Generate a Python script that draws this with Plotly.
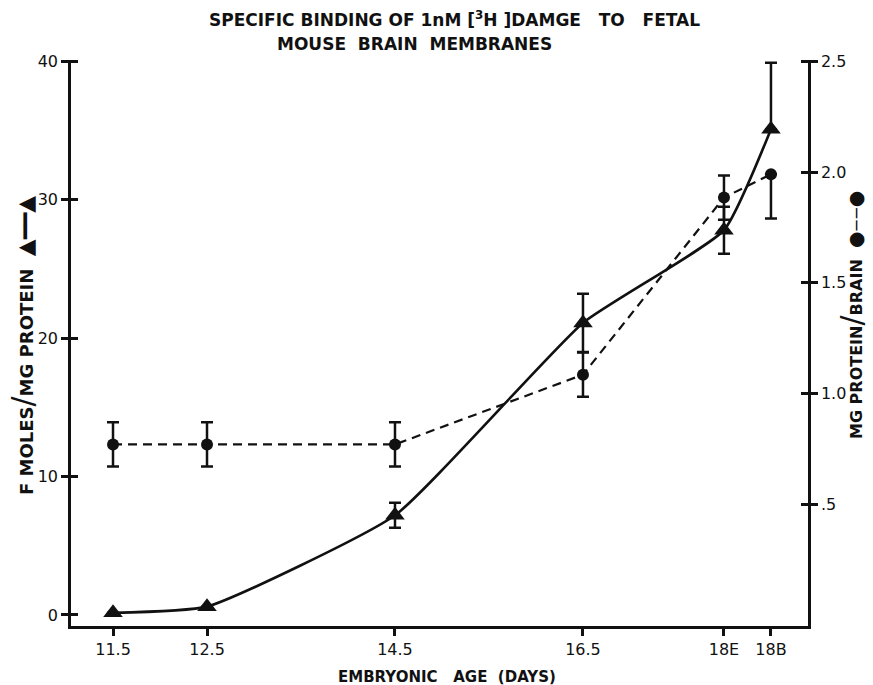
import plotly.graph_objects as go

# Data
ages = [11.5, 12.5, 14.5, 16.5, 18.0, 18.5]
age_labels = ["11.5", "12.5", "14.5", "16.5", "18E", "18B"]

binding = [0.15, 0.6, 7.2, 21.1, 27.8, 35.1]          # fmoles/mg protein (triangles, left axis)
binding_err_plus = [0, 0, 0.9, 2.1, 1.7, 4.8]
binding_err_minus = [0, 0, 0.9, 2.1, 1.7, 0]

protein = [0.77, 0.77, 0.77, 1.085, 1.885, 1.99]     # mg protein/brain (circles, right axis)
protein_err_plus = [0.10, 0.10, 0.10, 0.10, 0.10, 0]
protein_err_minus = [0.10, 0.10, 0.10, 0.10, 0.10, 0.20]

left_ticks = [0, 10, 20, 30, 40]
right_ticks = [0.5, 1.0, 1.5, 2.0, 2.5]
right_tick_text = [".5", "1.0", "1.5", "2.0", "2.5"]

LEFT_RANGE = [-0.8, 40.1]
RIGHT_RANGE = [LEFT_RANGE[0] / 16, LEFT_RANGE[1] / 16]
X_RANGE = [11.053, 18.894]

FONT = "DejaVu Sans"
INK = "#111111"

fig = go.Figure()

fig.add_trace(go.Scatter(
    x=ages, y=protein, yaxis="y2", mode="lines+markers",
    line=dict(color=INK, width=2.2, dash="9px,6px"),
    marker=dict(symbol="circle", size=12, color=INK),
    error_y=dict(type="data", symmetric=False, array=protein_err_plus,
                 arrayminus=protein_err_minus, color=INK, thickness=2.5, width=6),
    showlegend=False,
))

fig.add_trace(go.Scatter(
    x=ages, y=binding, yaxis="y", mode="lines+markers",
    line=dict(color=INK, width=2.6, shape="spline", smoothing=0.45),
    marker=dict(symbol="triangle-up", size=17, color=INK),
    error_y=dict(type="data", symmetric=False, array=binding_err_plus,
                 arrayminus=binding_err_minus, color=INK, thickness=2.5, width=6),
    showlegend=False,
))

axis_common = dict(showgrid=False, zeroline=False, showline=True, linecolor=INK,
                   linewidth=2.5, tickcolor=INK, tickwidth=2.5)
tick_font = dict(family=FONT, size=16, color=INK)

fig.update_layout(
    width=873, height=685,
    margin=dict(l=71, r=65, t=60, b=59),
    paper_bgcolor="white", plot_bgcolor="white",
    xaxis=dict(range=X_RANGE, tickvals=ages, ticktext=age_labels, ticks="outside",
               ticklen=7, tickfont=tick_font, **axis_common),
    yaxis=dict(range=LEFT_RANGE, tickvals=left_ticks, ticks="outside", ticklen=7,
               tickfont=tick_font, **axis_common),
    yaxis2=dict(range=RIGHT_RANGE, tickvals=right_ticks, ticktext=right_tick_text,
                overlaying="y", side="right", anchor="x", ticks="outside", ticklen=7,
                tickfont=tick_font, **axis_common),
    yaxis3=dict(range=LEFT_RANGE, tickvals=left_ticks, overlaying="y", side="left",
                anchor="x", ticks="inside", ticklen=7, showticklabels=False,
                **axis_common),
    yaxis4=dict(range=RIGHT_RANGE, tickvals=right_ticks, overlaying="y", side="right",
                anchor="x", ticks="inside", ticklen=7, showticklabels=False,
                **axis_common),
)

# invisible helper traces so the inside-tick axes render
fig.add_trace(go.Scatter(x=[ages[0]], y=[left_ticks[0]], yaxis="y3", mode="markers",
                         marker=dict(opacity=0), hoverinfo="skip", showlegend=False))
fig.add_trace(go.Scatter(x=[ages[0]], y=[right_ticks[0]], yaxis="y4", mode="markers",
                         marker=dict(opacity=0), hoverinfo="skip", showlegend=False))

NB = "\u00a0"
title_font = dict(family=FONT, size=17, color=INK)
fig.add_annotation(
    text=f"<b>SPECIFIC{NB}BINDING{NB}OF{NB}1nM{NB}[<sup>3</sup>H{NB}]DAMGE{NB}{NB}{NB}TO{NB}{NB}{NB}FETAL</b>",
    xref="paper", yref="paper", x=(454 - 71) / 737, y=1 + (60 - 19) / 566,
    showarrow=False, font=title_font, xanchor="center", yanchor="middle")
fig.add_annotation(
    text=f"<b>MOUSE{NB}{NB}BRAIN{NB}{NB}MEMBRANES</b>",
    xref="paper", yref="paper", x=(414 - 71) / 737, y=1 + (60 - 44) / 566,
    showarrow=False, font=title_font, xanchor="center", yanchor="middle")

fig.add_annotation(
    text=f"<b>EMBRYONIC{NB}{NB}{NB}AGE{NB}{NB}(DAYS)</b>",
    xref="paper", yref="paper", x=(447 - 71) / 737, y=-(677 - 626) / 566,
    showarrow=False, font=dict(family=FONT, size=15, color=INK),
    xanchor="center", yanchor="middle")

SLASH = "<span style='font-size:30px;font-weight:normal'>/</span>"
fig.add_annotation(
    text=(f"<b>F{NB}MOLES</b>{SLASH}<b>MG{NB}PROTEIN{NB}{NB}</b>"
          f"<span style='font-size:22px'>▲━━▲</span>"),
    xref="paper", yref="paper", x=-(71 - 22) / 737, y=(626 - 346) / 566,
    textangle=-90, showarrow=False, font=dict(family=FONT, size=18, color=INK),
    xanchor="center", yanchor="middle")
fig.add_annotation(
    text=(f"<b>MG{NB}PROTEIN</b>{SLASH}<b>BRAIN{NB}{NB}</b>"
          f"<span style='font-size:19px'>●‒‒●</span>"),
    xref="paper", yref="paper", x=1 + (851 - 808) / 737, y=(626 - 315) / 566,
    textangle=-90, showarrow=False, font=dict(family=FONT, size=16, color=INK),
    xanchor="center", yanchor="middle")

fig.write_html("out.html")
